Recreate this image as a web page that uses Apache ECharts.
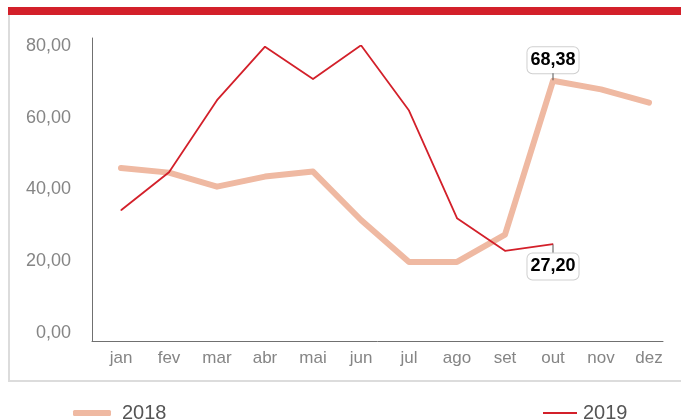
<!DOCTYPE html>
<html>
<head>
<meta charset="utf-8">
<script src="https://cdn.jsdelivr.net/npm/echarts@6/dist/echarts.min.js"></script>
<style>
  html, body { margin: 0; padding: 0; background: #fff; }
  #chart { width: 681px; height: 420px; }
</style>
</head>
<body>
<div id="chart"></div>
<script>
// meses
var months = ['jan', 'fev', 'mar', 'abr', 'mai', 'jun', 'jul', 'ago', 'set', 'out', 'nov', 'dez'];
// valores
var values2018 = [46.0, 44.7, 40.8, 43.6, 45.0, 31.5, 19.8, 19.8, 27.4, 70.3, 67.9, 64.2];
var values2019 = [34.2, 44.8, 64.9, 79.8, 70.8, 80.2, 62.0, 32.0, 22.9, 24.8];
// rotulos destacados (mes de outubro)
var calloutIndex = 9;
var callout2018 = '68,38';
var callout2019 = '27,20';

var red = '#d3202a';
var salmon = '#efb9a2';

function fmt(v) {
  return v.toFixed(2).replace('.', ',');
}

var boxStyle = {
  fontFamily: 'Liberation Sans',
  fontSize: 18,
  fontWeight: 'bold',
  color: '#000',
  backgroundColor: '#fff',
  borderColor: '#cfcfcf',
  borderWidth: 1,
  borderRadius: 5,
  padding: [4, 3, 4, 3]
};

var data2018 = values2018.map(function (v, i) {
  if (i !== calloutIndex) return v;
  return {
    value: v,
    label: {
      show: true,
      position: 'top',
      distance: 0,
      formatter: '{box|' + callout2018 + '}\n{stem|}',
      rich: {
        box: boxStyle,
        stem: { width: 1, height: 7, backgroundColor: '#555' }
      }
    }
  };
});

var data2019 = values2019.map(function (v, i) {
  if (i !== calloutIndex) return v;
  return {
    value: v,
    label: {
      show: true,
      position: 'bottom',
      distance: 0,
      formatter: '{stem|}\n{box|' + callout2019 + '}',
      rich: {
        box: boxStyle,
        stem: { width: 1, height: 9, backgroundColor: '#555' }
      }
    }
  };
});

var legendText = { fontFamily: 'Liberation Sans', fontSize: 20, color: '#555' };

var option = {
  animation: false,
  backgroundColor: '#fff',
  grid: [
    // area dos dados
    { left: 97, right: 8, top: 46, bottom: 87 },
    // moldura dos eixos
    { left: 92, right: 18, top: 38, bottom: 79 }
  ],
  graphic: [
    { type: 'rect', shape: { x: 8, y: 7, width: 673, height: 8 }, style: { fill: red } },
    { type: 'rect', shape: { x: 8, y: 15, width: 2, height: 367 }, style: { fill: '#dcdcdc' } },
    { type: 'rect', shape: { x: 8, y: 380, width: 673, height: 2 }, style: { fill: '#dcdcdc' } }
  ],
  legend: [
    {
      data: ['2018'],
      left: 68,
      top: 398,
      icon: 'roundRect',
      itemWidth: 38,
      itemHeight: 6,
      textStyle: Object.assign({ padding: [0, 0, 0, 6] }, legendText)
    },
    {
      data: ['2019'],
      left: 538,
      top: 398,
      icon: 'rect',
      itemWidth: 34,
      itemHeight: 2,
      textStyle: Object.assign({ padding: [0, 0, 0, 1] }, legendText)
    }
  ],
  xAxis: [
    {
      gridIndex: 0,
      type: 'category',
      data: months,
      boundaryGap: true,
      axisLine: { show: false },
      axisTick: { show: false },
      axisLabel: { margin: 17, fontFamily: 'Liberation Sans', fontSize: 17, color: '#858585' }
    },
    {
      gridIndex: 1,
      type: 'value',
      min: 0,
      max: 1,
      axisLine: { show: true, onZero: false, lineStyle: { color: '#707070', width: 1 } },
      axisTick: { show: false },
      axisLabel: { show: false },
      splitLine: { show: false }
    }
  ],
  yAxis: [
    {
      gridIndex: 0,
      type: 'value',
      min: 0,
      max: 80,
      interval: 20,
      axisLine: { show: false },
      axisTick: { show: false },
      splitLine: { show: false },
      axisLabel: {
        margin: 26,
        fontFamily: 'Liberation Sans',
        fontSize: 18,
        color: '#858585',
        formatter: fmt
      }
    },
    {
      gridIndex: 1,
      type: 'value',
      min: 0,
      max: 1,
      axisLine: { show: true, onZero: false, lineStyle: { color: '#707070', width: 1 } },
      axisTick: { show: false },
      axisLabel: { show: false },
      splitLine: { show: false }
    }
  ],
  series: [
    {
      name: '2018',
      type: 'line',
      xAxisIndex: 0,
      yAxisIndex: 0,
      data: data2018,
      color: salmon,
      symbol: 'circle',
      symbolSize: 1,
      showSymbol: true,
      itemStyle: { color: salmon },
      lineStyle: { color: salmon, width: 6, cap: 'round', join: 'round' },
      z: 2
    },
    {
      name: '2019',
      type: 'line',
      xAxisIndex: 0,
      yAxisIndex: 0,
      data: data2019,
      color: red,
      symbol: 'circle',
      symbolSize: 1,
      showSymbol: true,
      itemStyle: { color: red },
      lineStyle: { color: red, width: 1.8 },
      z: 3
    }
  ]
};

var myChart = echarts.init(document.getElementById('chart'));
myChart.setOption(option);
</script>
</body>
</html>
